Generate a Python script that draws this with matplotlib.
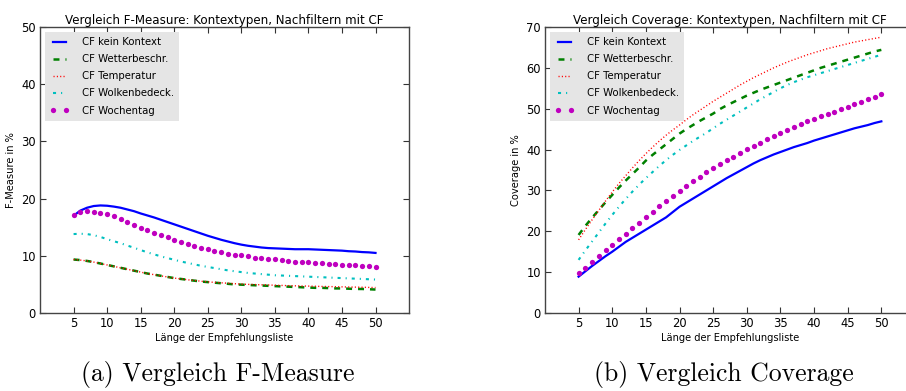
import matplotlib
matplotlib.use("Agg")
import matplotlib.pyplot as plt

plt.rcParams["lines.scale_dashes"] = False

# list length 5..50
x = list(range(5, 51))

labels = ["CF kein Kontext", "CF Wetterbeschr.", "CF Temperatur",
          "CF Wolkenbedeck.", "CF Wochentag"]

# F-Measure in %
f_kein = [17.0, 17.9, 18.4, 18.7, 18.8, 18.75, 18.6, 18.4, 18.1, 17.8,
          17.4, 17.05, 16.7, 16.3, 15.9, 15.5, 15.1, 14.7, 14.3, 13.9,
          13.5, 13.15, 12.8, 12.5, 12.2, 11.95, 11.75, 11.6, 11.45, 11.35,
          11.3, 11.25, 11.2, 11.15, 11.15, 11.15, 11.1, 11.05, 11.0, 10.95,
          10.9, 10.8, 10.75, 10.65, 10.6, 10.5]
f_wetter = [9.35, 9.25, 9.1, 8.9, 8.65, 8.4, 8.15, 7.9, 7.65, 7.4,
            7.15, 6.9, 6.7, 6.5, 6.3, 6.1, 5.95, 5.8, 5.65, 5.5,
            5.4, 5.3, 5.2, 5.1, 5.0, 4.95, 4.9, 4.85, 4.8, 4.75,
            4.7, 4.65, 4.6, 4.55, 4.5, 4.45, 4.4, 4.4, 4.35, 4.3,
            4.3, 4.25, 4.2, 4.2, 4.15, 4.1]
f_temp = [9.35, 9.25, 9.1, 8.9, 8.65, 8.4, 8.15, 7.9, 7.65, 7.4,
          7.15, 6.9, 6.7, 6.5, 6.3, 6.1, 5.95, 5.8, 5.7, 5.55,
          5.45, 5.35, 5.28, 5.2, 5.12, 5.05, 5.0, 4.97, 4.93, 4.9,
          4.85, 4.82, 4.78, 4.75, 4.72, 4.7, 4.67, 4.64, 4.62, 4.6,
          4.57, 4.54, 4.52, 4.5, 4.47, 4.45]
f_wolken = [13.8, 13.85, 13.8, 13.6, 13.3, 12.9, 12.55, 12.2, 11.8, 11.4,
            11.0, 10.6, 10.25, 9.9, 9.6, 9.3, 9.0, 8.75, 8.5, 8.25,
            8.05, 7.85, 7.65, 7.45, 7.3, 7.15, 7.0, 6.9, 6.8, 6.7,
            6.6, 6.55, 6.5, 6.45, 6.4, 6.35, 6.3, 6.25, 6.2, 6.15,
            6.1, 6.05, 6.0, 5.95, 5.9, 5.85]
f_woche = [17.1, 17.6, 17.8, 17.6, 17.55, 17.25, 16.9, 16.4, 15.85, 15.4,
           14.9, 14.5, 14.0, 13.6, 13.2, 12.8, 12.4, 12.1, 11.7, 11.4,
           11.1, 10.9, 10.7, 10.4, 10.2, 10.1, 9.96, 9.7, 9.6, 9.5,
           9.4, 9.26, 9.15, 9.0, 8.95, 8.85, 8.8, 8.7, 8.6, 8.55,
           8.45, 8.4, 8.35, 8.3, 8.25, 8.1]

# Coverage in %
c_kein = [8.9, 10.2, 11.5, 12.7, 13.9, 15.0, 16.2, 17.4, 18.4, 19.4,
          20.4, 21.4, 22.4, 23.4, 24.7, 26.0, 27.0, 28.0, 29.0, 30.0,
          31.0, 32.0, 33.0, 33.9, 34.8, 35.7, 36.6, 37.4, 38.1, 38.8,
          39.4, 40.0, 40.6, 41.1, 41.6, 42.2, 42.7, 43.2, 43.7, 44.2,
          44.7, 45.2, 45.6, 46.0, 46.5, 46.9]
c_wetter = [19.1, 21.3, 23.3, 25.2, 27.1, 28.9, 30.7, 32.4, 34.0, 35.6,
            37.3, 38.7, 40.0, 41.3, 42.6, 43.9, 45.0, 46.0, 47.0, 47.9,
            48.8, 49.9, 50.8, 51.6, 52.4, 53.2, 53.9, 54.6, 55.2, 55.8,
            56.4, 57.0, 57.6, 58.2, 58.8, 59.4, 60.0, 60.5, 61.0, 61.5,
            62.0, 62.5, 63.0, 63.5, 64.0, 64.4]
c_temp = [17.9, 20.4, 22.8, 25.1, 27.4, 29.6, 31.7, 33.6, 35.5, 37.3,
          39.0, 40.6, 42.1, 43.5, 44.8, 46.0, 47.3, 48.5, 49.6, 50.7,
          51.8, 52.8, 53.8, 54.8, 55.8, 56.7, 57.6, 58.4, 59.2, 60.0,
          60.7, 61.4, 62.0, 62.6, 63.2, 63.7, 64.2, 64.7, 65.1, 65.5,
          65.9, 66.3, 66.6, 66.9, 67.2, 67.5]
c_wolken = [13.0, 15.3, 17.5, 19.7, 21.9, 24.0, 26.0, 27.9, 29.7, 31.4,
            33.0, 34.5, 36.0, 37.4, 38.7, 39.9, 41.0, 42.1, 43.1, 44.1,
            45.2, 46.3, 47.3, 48.3, 49.3, 50.3, 51.3, 52.3, 53.2, 54.1,
            55.0, 55.8, 56.5, 57.1, 57.7, 58.2, 58.7, 59.2, 59.7, 60.2,
            60.7, 61.2, 61.7, 62.2, 62.7, 63.2]
c_woche = [9.7, 11.1, 12.5, 13.9, 15.3, 16.6, 18.0, 19.4, 20.8, 22.1,
           23.4, 24.8, 26.1, 27.4, 28.7, 29.9, 31.1, 32.2, 33.3, 34.4,
           35.4, 36.4, 37.4, 38.3, 39.2, 40.1, 40.9, 41.7, 42.5, 43.3,
           44.1, 44.8, 45.5, 46.2, 46.9, 47.5, 48.1, 48.7, 49.3, 49.9,
           50.5, 51.1, 51.7, 52.3, 52.9, 53.5]

xticks = list(range(5, 51, 5))


def draw(ax, series, title, ylabel, ymax):
    kein, wetter, temp, wolken, woche = series
    ax.plot(x, kein, color="b", lw=1.6, ls="-", label=labels[0])
    ax.plot(x, wetter, color="g", lw=1.8, dashes=(4.3, 4.3), label=labels[1])
    ax.plot(x, temp, color="r", lw=1.0, dashes=(0.8, 1.6), label=labels[2])
    ax.plot(x, wolken, color="c", lw=1.5, dashes=(2.2, 3.6, 0.8, 3.6),
            label=labels[3])
    ax.plot(x, woche, color="m", ls="none", marker="o", ms=3.8, mew=0,
            label=labels[4])
    ax.set_xlim(0, 55)
    ax.set_ylim(0, ymax)
    ax.set_xticks(xticks)
    ax.set_yticks(range(0, ymax + 1, 10))
    ax.tick_params(direction="in", top=True, right=True, labelsize=8.3,
                   length=4, color="#333333", pad=3)
    for s in ax.spines.values():
        s.set_color("#444444")
        s.set_linewidth(1.0)
    ax.set_title(title, fontsize=8.6, pad=2)
    ax.set_xlabel("Länge der Empfehlungsliste", fontsize=7.1, labelpad=2)
    ax.set_ylabel(ylabel, fontsize=7.1, labelpad=4)
    leg = ax.legend(loc="upper left", fontsize=7.3, numpoints=2,
                    handlelength=1.9, handletextpad=1.2, labelspacing=0.7,
                    borderaxespad=0.5, borderpad=0.5, fancybox=False,
                    framealpha=1)
    leg.get_frame().set_facecolor("#e5e5e5")
    leg.get_frame().set_edgecolor("none")


fig = plt.figure(figsize=(9.06, 3.91), dpi=100)
ax1 = fig.add_axes([0.0442, 0.1995, 0.4073, 0.7315])
ax2 = fig.add_axes([0.6015, 0.1995, 0.4084, 0.7315])

draw(ax1, [f_kein, f_wetter, f_temp, f_wolken, f_woche],
     "Vergleich F-Measure: Kontextypen, Nachfiltern mit CF", "F-Measure in %", 50)
draw(ax2, [c_kein, c_wetter, c_temp, c_wolken, c_woche],
     "Vergleich Coverage: Kontextypen, Nachfiltern mit CF", "Coverage in %", 70)

fig.text(218 / 906, 0.042, "(a) Vergleich F-Measure", family="cmr10",
         fontsize=18.5, ha="center", va="center")
fig.text(724 / 906, 0.042, "(b) Vergleich Coverage", family="cmr10",
         fontsize=18.5, ha="center", va="center")

fig.savefig("out.png", dpi=100)
